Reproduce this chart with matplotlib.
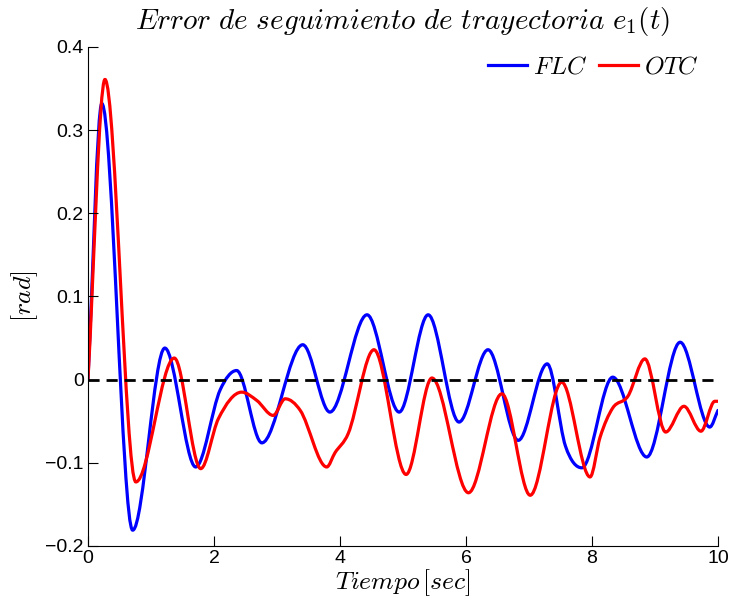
import numpy as np
import matplotlib
matplotlib.use("Agg")
import matplotlib.pyplot as plt
from matplotlib.path import Path
from matplotlib.patches import PathPatch
from matplotlib.lines import Line2D

plt.rcParams['font.family'] = ['Liberation Sans', 'DejaVu Sans']
plt.rcParams['mathtext.fontset'] = 'cm'

# tracking error e1(t), sampled at the turning points of each response
t_flc = [0, 0.22, 0.71, 1.22, 1.71, 2.10, 2.36, 2.76, 3.41, 3.84, 4.43, 4.94,
         5.40, 5.89, 6.35, 6.83, 7.29, 7.58, 7.84, 8.33, 8.87, 9.40, 9.87, 10]
e_flc = [0, 0.332, -0.181, 0.038, -0.105, -0.012, 0.011, -0.076, 0.042, -0.039,
         0.078, -0.039, 0.078, -0.051, 0.036, -0.073, 0.019, -0.080, -0.106,
         0.003, -0.093, 0.045, -0.057, -0.037]

t_otc = [0, 0.27, 0.76, 1.37, 1.79, 2.07, 2.44, 2.68, 2.94, 3.13, 3.37, 3.79,
         3.92, 4.13, 4.54, 5.05, 5.46, 6.04, 6.57, 7.02, 7.52, 7.97, 8.13, 8.33,
         8.57, 8.84, 9.17, 9.46, 9.73, 9.95, 10]
e_otc = [0, 0.361, -0.123, 0.026, -0.107, -0.047, -0.015, -0.025, -0.043, -0.023,
         -0.037, -0.105, -0.088, -0.065, 0.036, -0.114, 0.002, -0.136, -0.017,
         -0.139, -0.003, -0.117, -0.069, -0.034, -0.020, 0.025, -0.063, -0.032,
         -0.062, -0.026, -0.026]

series = [("$FLC$", t_flc, e_flc, "#0000ff"),
          ("$OTC$", t_otc, e_otc, "#ff0000")]

yticks = [-0.2, -0.1, 0, 0.1, 0.2, 0.3, 0.4]
ytick_labels = ["\u22120.2", "\u22120.1", "0", "0.1", "0.2", "0.3", "0.4"]
xticks = [0, 2, 4, 6, 8, 10]


def smooth_path(t, v):
    # cubic Hermite through the samples, flat tangents at turning points
    t = np.asarray(t, float)
    v = np.asarray(v, float)
    d = np.diff(v) / np.diff(t)
    m = np.zeros(len(t))
    m[0], m[-1] = d[0], d[-1]
    for i in range(1, len(t) - 1):
        if d[i - 1] * d[i] > 0:
            m[i] = 0.5 * (d[i - 1] + d[i])
    verts = [(t[0], v[0])]
    codes = [Path.MOVETO]
    for i in range(len(t) - 1):
        h = t[i + 1] - t[i]
        verts += [(t[i] + h / 3, v[i] + m[i] * h / 3),
                  (t[i + 1] - h / 3, v[i + 1] - m[i + 1] * h / 3),
                  (t[i + 1], v[i + 1])]
        codes += [Path.CURVE4] * 3
    return Path(verts, codes)


fig = plt.figure(figsize=(7.3, 6.0), dpi=100)
ax = fig.add_axes([0.1205, 0.09, 0.863, 0.8317])

handles = []
for name, t, v, col in series:
    ax.add_patch(PathPatch(smooth_path(t, v), fill=False, edgecolor=col,
                           lw=2.3, capstyle='round', joinstyle='round'))
    handles.append(Line2D([], [], color=col, lw=2.3, label=name))

ax.plot([0, 10], [0, 0], color='black', lw=2.0, ls=(0, (4, 2.5)))

ax.set_xlim(0, 10)
ax.set_ylim(-0.2, 0.4)
ax.set_xticks(xticks)
ax.set_xticklabels([str(x) for x in xticks])
ax.set_yticks(yticks)
ax.set_yticklabels(ytick_labels)
ax.tick_params(direction='in', length=7, width=0.8, labelsize=14, pad=3)
for side in ['top', 'right']:
    ax.spines[side].set_visible(False)

ax.set_title(r'$Error\ de\ seguimiento\ de\ trayectoria\ e_1(t)$',
             fontsize=21, pad=13)
ax.set_xlabel(r'$Tiempo\,[sec]$', fontsize=18.5, labelpad=0)
ax.set_ylabel(r'$[rad]$', fontsize=18.5, labelpad=4)

ax.legend(handles=handles, loc='upper right', ncol=2, frameon=False,
          fontsize=18, handlelength=1.55, handletextpad=0.25,
          columnspacing=0.5, borderaxespad=0.0,
          bbox_to_anchor=(0.986, 1.005))

fig.savefig("out.png", dpi=100)
